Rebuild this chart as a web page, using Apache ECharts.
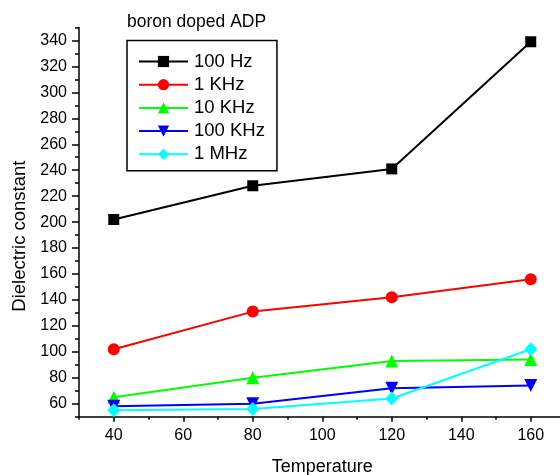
<!DOCTYPE html>
<html>
<head>
<meta charset="utf-8">
<script src="https://cdn.jsdelivr.net/npm/echarts@6/dist/echarts.min.js"></script>
<style>
html,body{margin:0;padding:0;background:#fff;}
#chart{width:560px;height:475px;}
</style>
</head>
<body>
<div id="chart"></div>
<script>
const temperature = [40, 80, 120, 160];
const hz100 = [202, 228, 241, 339];
const khz1 = [102, 131, 142, 156];
const khz10 = [65, 80, 93, 94];
const khz100 = [58, 60, 72, 74];
const mhz1 = [55, 56, 64, 102];
const xMajorTicks = [40, 60, 80, 100, 120, 140, 160];
const xMinorTicks = [30, 50, 70, 90, 110, 130, 150, 170];
const yMajorTicks = [60, 80, 100, 120, 140, 160, 180, 200, 220, 240, 260, 280, 300, 320, 340];
const yMinorTicks = [50, 70, 90, 110, 130, 150, 170, 190, 210, 230, 250, 270, 290, 310, 330, 350];
const seriesNames = ['100 Hz', '1 KHz', '10 KHz', '100 KHz', '1 MHz'];

const FONT = 'Liberation Sans, Arial, sans-serif';
const chart = echarts.init(document.getElementById('chart'));

function pts(vals) { return temperature.map((t, i) => [t, vals[i]]); }

const seriesDefs = [
  {name: seriesNames[0], data: hz100, color: '#000000', symbol: 'rect', size: 11, rotate: 0},
  {name: seriesNames[1], data: khz1, color: '#ff0000', symbol: 'circle', size: 12, rotate: 0},
  {name: seriesNames[2], data: khz10, color: '#00ff00', symbol: 'triangle', size: 13, rotate: 0},
  {name: seriesNames[3], data: khz100, color: '#0000ff', symbol: 'triangle', size: 13, rotate: 180},
  {name: seriesNames[4], data: mhz1, color: '#00ffff', symbol: 'diamond', size: [13, 14], rotate: 0}
];

const option = {
  animation: false,
  backgroundColor: '#ffffff',
  textStyle: {fontFamily: FONT},
  title: {
    text: 'boron doped ADP',
    left: 127, top: 13, padding: 0,
    textStyle: {fontFamily: FONT, fontSize: 17.5, fontWeight: 'normal', color: '#000'}
  },
  legend: {
    left: 127, top: 40.5,
    orient: 'vertical',
    backgroundColor: '#fff',
    borderColor: '#000', borderWidth: 1.5,
    padding: [11.5, 12, 7, 11],
    itemWidth: 49, itemHeight: 14, itemGap: 4.2,
    textStyle: {fontFamily: FONT, fontSize: 18.5, color: '#000', lineHeight: 18, padding: [0, 0, 0, 1]},
    data: seriesNames
  },
  grid: {left: 79, right: -5.5, top: 27.5, bottom: 58.3, containLabel: false, outerBoundsMode: 'none'},
  xAxis: [
    {
      type: 'value', min: 30, max: 170,
      name: 'Temperature', nameLocation: 'middle', nameGap: 41,
      nameTextStyle: {fontFamily: FONT, fontSize: 18, color: '#000'},
      axisLine: {show: true, lineStyle: {color: '#000', width: 1.5}},
      axisTick: {show: true, customValues: xMajorTicks, length: 5, lineStyle: {color: '#000', width: 1.5}},
      axisLabel: {customValues: xMajorTicks, margin: 11, fontFamily: FONT, fontSize: 16, color: '#000'},
      splitLine: {show: false}
    },
    {
      type: 'value', min: 30, max: 170, position: 'bottom',
      axisLine: {show: false},
      axisTick: {show: true, customValues: xMinorTicks, length: 3, lineStyle: {color: '#000', width: 1.5}},
      axisLabel: {show: false},
      splitLine: {show: false}
    }
  ],
  yAxis: [
    {
      type: 'value', min: 50, max: 350,
      name: 'Dielectric constant', nameLocation: 'middle', nameGap: 49,
      nameTextStyle: {fontFamily: FONT, fontSize: 18.5, color: '#000', padding: [0, 28, 0, 0]},
      axisLine: {show: true, lineStyle: {color: '#000', width: 1.5}},
      axisTick: {show: true, customValues: yMajorTicks, length: 7, lineStyle: {color: '#000', width: 1.5}},
      axisLabel: {customValues: yMajorTicks, margin: 12, fontFamily: FONT, fontSize: 16, color: '#000'},
      splitLine: {show: false}
    },
    {
      type: 'value', min: 50, max: 350, position: 'left',
      axisLine: {show: false},
      axisTick: {show: true, customValues: yMinorTicks, length: 4, lineStyle: {color: '#000', width: 1.5}},
      axisLabel: {show: false},
      splitLine: {show: false}
    }
  ],
  series: seriesDefs.map(s => ({
    name: s.name,
    type: 'line',
    xAxisIndex: 0, yAxisIndex: 0,
    data: pts(s.data),
    symbol: s.symbol,
    symbolSize: s.size,
    symbolRotate: s.rotate,
    showAllSymbol: true,
    color: s.color,
    lineStyle: {color: s.color, width: 2},
    itemStyle: {color: s.color, borderWidth: 0}
  }))
};
chart.setOption(option);
</script>
</body>
</html>
